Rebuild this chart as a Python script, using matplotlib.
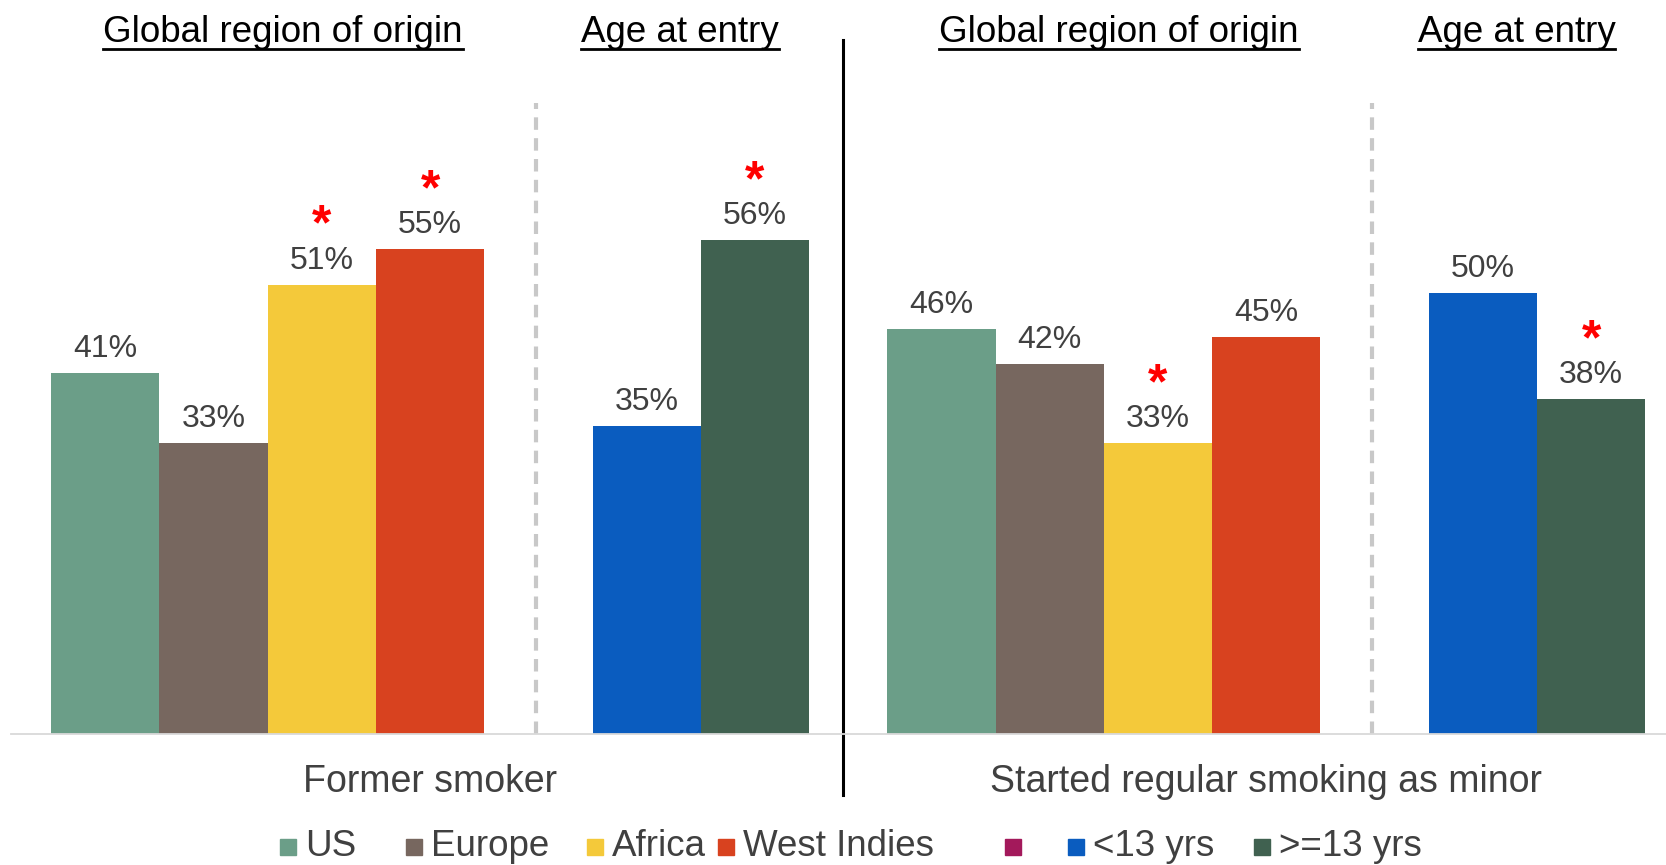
import matplotlib
matplotlib.use("Agg")
import matplotlib.pyplot as plt
import matplotlib.transforms as mtransforms
from matplotlib.lines import Line2D
import numpy as np

plt.rcParams['font.family'] = ['Liberation Sans', 'DejaVu Sans']

# ---------------- data ----------------
region_categories = ["US", "Europe", "Africa", "West Indies"]
age_categories = ["<13 yrs", ">=13 yrs"]
group_labels = ["Former smoker", "Started regular smoking as minor"]
header_region = "Global region of origin"
header_age = "Age at entry"

former_region = [41, 33, 51, 55]
former_age = [35, 56]
minor_region = [46, 42, 33, 45]
minor_age = [50, 38]

sig_former_region = [False, False, True, True]
sig_former_age = [False, True]
sig_minor_region = [False, False, True, False]
sig_minor_age = [False, True]

region_colors = ["#6B9E88", "#77675F", "#F4C93A", "#D8421F"]
age_colors = ["#0A5CBF", "#406150"]
unused_color = "#A3195B"

# ---------------- layout ----------------
W, H = 1666, 865
fig = plt.figure(figsize=(W / 100, H / 100), dpi=100)
ax_left_px, base_px, top_px = 10.6, 734, 73
ax = fig.add_axes([ax_left_px / W, 1 - base_px / H, 1 - ax_left_px / W, (base_px - top_px) / H])
ymax = 75
ax.set_ylim(0, ymax)
ax.set_xlim(-0.373, 14.91)

group_offset = 7.72
region_slots = np.arange(4) + 0.5
age_slots = np.arange(2) + 5.5
sep_slot = 4.475
divider_x = 7.31
header_centers = (2.14, 5.81)

groups = [
    (former_region, former_age, sig_former_region, sig_former_age),
    (minor_region, minor_age, sig_minor_region, sig_minor_age),
]

label_color = "#404040"
blend = mtransforms.blended_transform_factory(ax.transData, ax.transAxes)
for gi, (rvals, avals, rsig, asig) in enumerate(groups):
    off = gi * group_offset
    xs = list(region_slots + off) + list(age_slots + off)
    vals = list(rvals) + list(avals)
    sigs = list(rsig) + list(asig)
    cols = region_colors + age_colors
    ax.bar(xs, vals, width=1.0, color=cols, edgecolor='none')
    for x, v, s in zip(xs, vals, sigs):
        ax.annotate(f"{v}%", (x, v), xytext=(0, 11.5), textcoords='offset points',
                    ha='center', va='baseline', fontsize=23, color=label_color)
        if s:
            ax.annotate("*", (x, v), xytext=(0, 32.5), textcoords='offset points',
                        ha='center', va='baseline', fontsize=36, fontweight='bold',
                        color="#FF0000")
    # dashed separator
    ax.plot([sep_slot + off] * 2, [0, 0.955], transform=blend,
            color="#C8C8C8", lw=3.0, ls=(0, (3, 2)), clip_on=False)
    # group label
    ax.annotate(group_labels[gi], ((3.5 + off), 0), xytext=(0, -41.8), textcoords='offset points',
                ha='center', va='baseline', fontsize=27, color=label_color)

# black divider
ax.plot([divider_x, divider_x], [(base_px - 40) / (base_px - top_px), (base_px - 795) / (base_px - top_px)],
        transform=blend, color="black", lw=2.2, clip_on=False)

# axis styling
for sp in ['top', 'right', 'left']:
    ax.spines[sp].set_visible(False)
ax.spines['bottom'].set_color("#D9D9D9")
ax.spines['bottom'].set_linewidth(1.3)
ax.set_xticks([])
ax.set_yticks([])

# headers (underlined)
fig.canvas.draw()
renderer = fig.canvas.get_renderer()
header_base = 1 - 42 / H
underline_y = 1 - 48.5 / H
for gi in range(2):
    off = gi * group_offset
    for text, cx in ((header_region, header_centers[0] + off), (header_age, header_centers[1] + off)):
        xf = fig.transFigure.inverted().transform(ax.transData.transform((cx, 0)))[0]
        t = fig.text(xf, header_base, text, ha='center', va='baseline', fontsize=26.5, color='black')
        bb = t.get_window_extent(renderer=renderer)
        fig.add_artist(Line2D([bb.x0 / W, bb.x1 / W], [underline_y, underline_y],
                              transform=fig.transFigure, color='black', lw=2.0))

# legend (placed entry by entry)
legend_labels = region_categories + [""] + age_categories
legend_colors = region_colors + [unused_color] + age_colors
legend_marker_px = [288, 414, 595, 726, 1013, 1076, 1262]
legend_y_marker = 1 - 847 / H
legend_y_text = 1 - 856 / H
for lab, col, mx in zip(legend_labels, legend_colors, legend_marker_px):
    fig.add_artist(Line2D([mx / W], [legend_y_marker], transform=fig.transFigure, marker='s',
                          ls='', markersize=11, color=col))
    if lab:
        fig.text((mx + 17) / W, legend_y_text, lab, ha='left', va='baseline', fontsize=26.5,
                 color=label_color)

fig.savefig("out.png", dpi=100)
